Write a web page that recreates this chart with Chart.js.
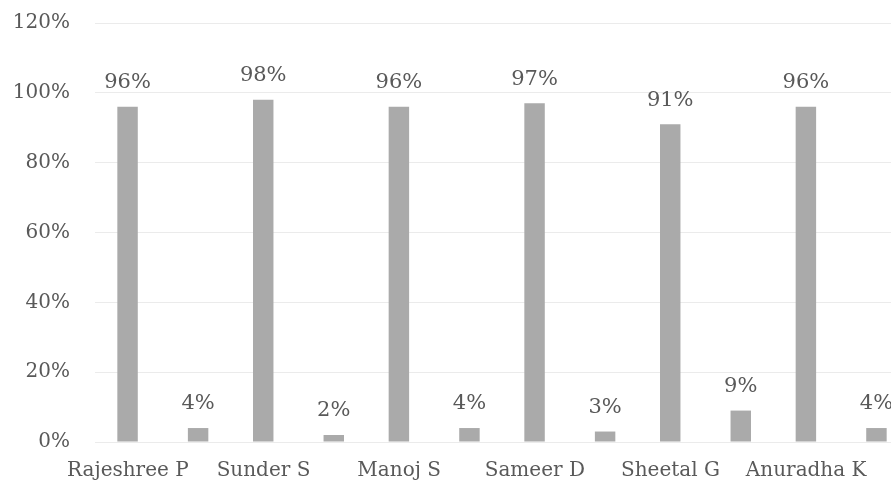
<!DOCTYPE html>
<html>
<head>
<meta charset="utf-8">
<script src="https://cdn.jsdelivr.net/npm/chart.js@4.4.1/dist/chart.umd.min.js"></script>
<style>
  html, body { margin: 0; padding: 0; background: #fff; overflow: hidden; }
  #wrap { width: 915px; height: 486px; }
</style>
</head>
<body>
<div id="wrap"><canvas id="chartcontainer"></canvas></div>
<script>
// data
var names = ['Rajeshree P', 'Sunder S', 'Manoj S', 'Sameer D', 'Sheetal G', 'Anuradha K'];
var bigShare = [96, 98, 96, 97, 91, 96];
var smallShare = [4, 2, 4, 3, 9, 4];
var yTicks = [0, 20, 40, 60, 80, 100, 120];

var serif = '"DejaVu Serif", "Liberation Serif", serif';
var textColor = '#595959';

// draws the % value over each bar
var valueLabels = {
  id: 'valueLabels',
  afterDatasetsDraw: function (chart) {
    var c = chart.ctx;
    c.save();
    c.font = '21px ' + serif;
    c.fillStyle = textColor;
    c.textAlign = 'center';
    c.textBaseline = 'middle';
    chart.data.datasets.forEach(function (ds, i) {
      chart.getDatasetMeta(i).data.forEach(function (bar, j) {
        c.fillText(ds.data[j] + '%', bar.x, bar.y - 24);
      });
    });
    c.restore();
  }
};

var ctx = document.getElementById('chartcontainer');
var chartcontainer = new Chart(ctx, {
  type: 'bar',
  data: {
    labels: names,
    datasets: [{
      label: 'A',
      data: bigShare,
      backgroundColor: '#aaaaaa',
      borderWidth: 0,
      categoryPercentage: 1.04,
      barPercentage: 0.29
    }, {
      label: 'B',
      data: smallShare,
      backgroundColor: '#aaaaaa',
      borderWidth: 0,
      categoryPercentage: 1.04,
      barPercentage: 0.29
    }]
  },
  options: {
    responsive: true,
    maintainAspectRatio: false,
    animation: false,
    layout: {
      padding: { top: 23, right: 6, bottom: 0, left: 0 }
    },
    scales: {
      x: {
        grid: { display: false },
        border: { display: false },
        ticks: {
          color: textColor,
          font: { family: serif, size: 20 },
          padding: 9,
          labelOffset: -35,
          maxRotation: 0
        },
        afterFit: function (scale) { scale.height = 44; }
      },
      y: {
        min: 0,
        max: 120,
        afterBuildTicks: function (scale) {
          scale.ticks = yTicks.map(function (v) { return { value: v }; });
        },
        grid: { color: '#ebebeb', lineWidth: 1, drawTicks: false },
        border: { display: false },
        ticks: {
          color: textColor,
          font: { family: serif, size: 20 },
          padding: 25,
          callback: function (v) { return v + '%'; }
        },
        afterFit: function (scale) {
          scale.width = 95;
          scale.paddingTop = 0;
          scale.paddingBottom = 0;
        }
      }
    },
    plugins: {
      legend: { display: false },
      tooltip: { enabled: false }
    }
  },
  plugins: [valueLabels]
});
</script>
</body>
</html>
